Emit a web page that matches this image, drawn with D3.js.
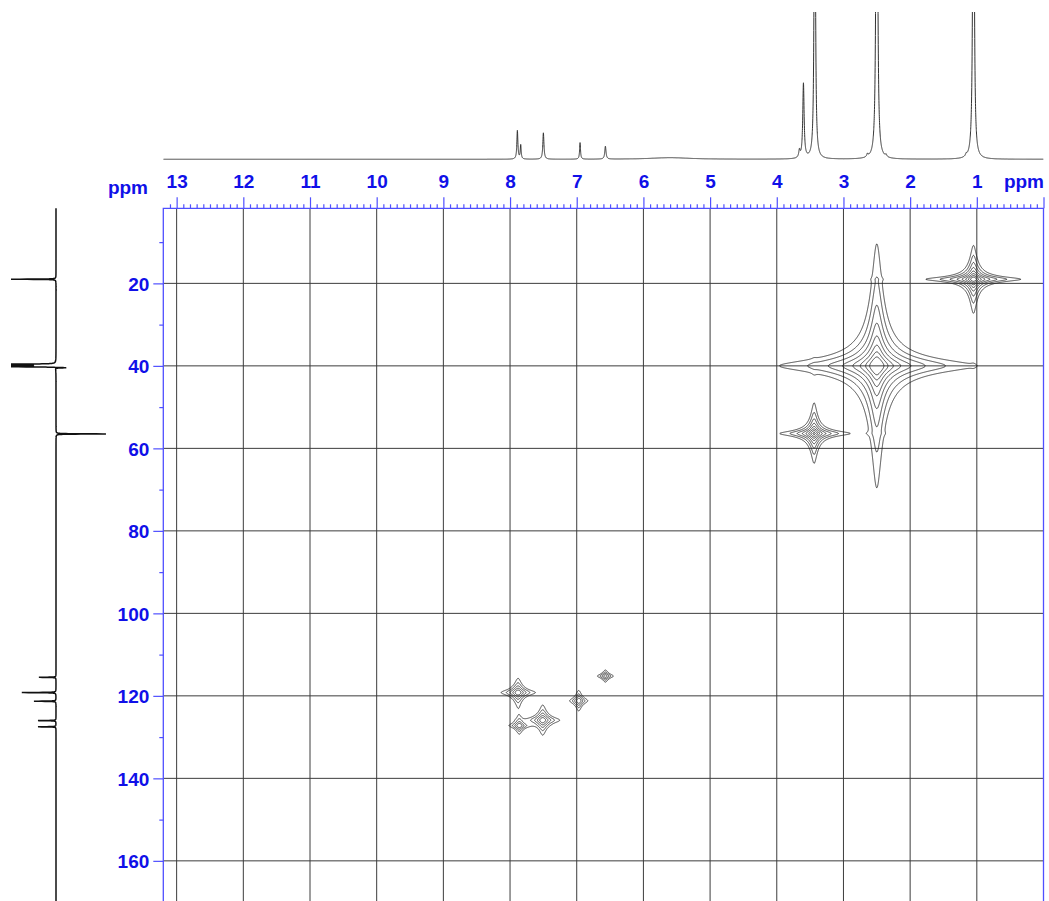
<!DOCTYPE html>
<html><head><meta charset="utf-8">
<script src="https://cdn.jsdelivr.net/npm/d3@7"></script>
<style>body{margin:0;background:#fff} svg{display:block}</style>
</head><body><svg id="c" width="1049" height="901"></svg>
<script>
// ---------------- data ----------------
const hTicks = [13,12,11,10,9,8,7,6,5,4,3,2,1];
const cTicks = [20,40,60,80,100,120,140,160];
const cMinorTicks = [10,30,50,70,90,110,130,150,170];

// 1H projection (top): peak positions (ppm), heights (relative), half widths (ppm)
const hPeakPpm    = [7.89, 7.84, 7.50, 6.95, 6.57, 5.60, 3.66, 3.60, 3.43, 2.64, 2.503, 2.497, 2.36, 1.16, 1.05];
const hPeakHeight = [19.5, 9.5, 18.0, 11.3, 8.8, 1.1, 5.0, 51.0, 330, 2.0, 220, 220, 1.5, 1.5, 380];
const hPeakWidth  = [0.009, 0.008, 0.010, 0.008, 0.011, 0.35, 0.012, 0.012, 0.009, 0.012, 0.010, 0.010, 0.012, 0.012, 0.010];

// 13C projection (left): peak positions (ppm), heights (signed), half widths (ppm)
const cPeakPpm    = [19.0, 39.6, 39.8, 40.0, 40.2, 40.45, 56.5, 115.5, 119.2, 121.3, 126.0, 127.5];
const cPeakHeight = [100, 160, 170, 170, 160, -29, -111, 38, 76, 49, 40, 40];
const cPeakWidth  = [0.04, 0.04, 0.04, 0.04, 0.04, 0.06, 0.04, 0.04, 0.04, 0.04, 0.04, 0.04];

// HSQC cross peaks: 1H ppm, 13C ppm, amplitude, 1H half width, 13C half width
const xpH   = [1.05, 2.50, 3.44, 7.88, 7.86, 7.51, 6.97, 6.57];
const xpC   = [19.0, 40.0, 56.4, 119.2, 127.2, 125.9, 121.2, 115.2];
const xpAmp = [250, 400, 150, 30, 15, 30, 15, 12];
const xpWH  = [0.045, 0.073, 0.042, 0.047, 0.040, 0.047, 0.036, 0.036];
const xpWC  = [0.52, 1.48, 0.59, 0.63, 0.52, 0.67, 0.65, 0.44];
const contourLevels = [1, 2, 4, 8, 16, 32, 64, 128];

// ---------------- drawing ----------------
const svg = d3.select('#c');
const BLUE_LINE = '#4f4fff', BLUE_TEXT = '#1010e8', GRID = '#3c3c3c', TRACE = '#333';
const FONT = '"Liberation Sans", Arial, Helvetica, sans-serif';

const x = d3.scaleLinear().domain([13.2, 0]).range([163.3, 1043.5]);
const y = d3.scaleLinear().domain([1.8, 170]).range([208.3, 902.1]);
const x0 = x.range()[0], x1 = x.range()[1], y0 = y.range()[0], yBottom = 901;

// grid
const grid = svg.append('g').attr('stroke', GRID).attr('stroke-width', 1);
grid.selectAll('line.v').data(hTicks).join('line').attr('class','v')
  .attr('x1', d => x(d)).attr('x2', d => x(d)).attr('y1', y0).attr('y2', yBottom);
grid.selectAll('line.h').data(cTicks).join('line').attr('class','h')
  .attr('x1', x0).attr('x2', x1).attr('y1', d => y(d)).attr('y2', d => y(d));

// contours
function intensity(h, c) {
  let s = 0;
  for (let k = 0; k < xpH.length; k++) {
    const dh = (h - xpH[k]) / xpWH[k], dc = (c - xpC[k]) / xpWC[k];
    s += xpAmp[k] / ((1 + dh*dh) * (1 + dc*dc));
  }
  return s;
}
const cg = svg.append('g').attr('fill', 'none').attr('stroke', '#1e1e1e').attr('stroke-width', 0.8);
function drawRegion(hA, hB, cA, cB, step) {
  const px0 = x(hA), px1 = x(hB), py0 = y(cA), py1 = y(cB);
  const nx = Math.ceil((px1 - px0) / step), ny = Math.ceil((py1 - py0) / step);
  const vals = new Float64Array(nx * ny);
  for (let j = 0; j < ny; j++) {
    const c = y.invert(py0 + (j + 0.5) * step);
    for (let i = 0; i < nx; i++) {
      vals[j * nx + i] = intensity(x.invert(px0 + (i + 0.5) * step), c);
    }
  }
  const conts = d3.contours().size([nx, ny]).thresholds(contourLevels)(vals);
  const path = d3.geoPath(d3.geoTransform({
    point: function(gx, gy) { this.stream.point(px0 + gx * step, py0 + gy * step); }
  }));
  cg.selectAll(null).data(conts).join('path').attr('d', path);
}
drawRegion(4.3, 0.0, 3, 78, 0.5);
drawRegion(8.6, 6.2, 108, 134, 0.4);

// frame (blue)
const frame = svg.append('g').attr('stroke', BLUE_LINE).attr('stroke-width', 1.3).attr('fill','none');
frame.append('path').attr('d', `M${x0},${yBottom}V${y0}H${x1}V${yBottom}`);

// top axis
const topMinor = d3.range(1, 132).map(i => i / 10).filter(v => Math.abs(v - Math.round(v)) > 1e-6);
const axTopMinor = svg.append('g').attr('transform', `translate(0,${y0})`)
  .call(d3.axisTop(x).tickValues(topMinor).tickSize(4).tickFormat(''));
const axTop = svg.append('g').attr('transform', `translate(0,${y0})`)
  .call(d3.axisTop(x).tickValues(hTicks.concat([0])).tickSize(11).tickPadding(9)
        .tickFormat(d => d === 0 ? '' : d));
// left axis
const axLeftMinor = svg.append('g').attr('transform', `translate(${x0},0)`)
  .call(d3.axisLeft(y).tickValues(cMinorTicks).tickSize(4).tickFormat(''));
const axLeft = svg.append('g').attr('transform', `translate(${x0},0)`)
  .call(d3.axisLeft(y).tickValues(cTicks).tickSize(10).tickPadding(4));
[axTopMinor, axTop, axLeftMinor, axLeft].forEach(g => {
  g.select('.domain').remove();
  g.selectAll('line').attr('stroke', BLUE_LINE).attr('stroke-width', 1.2);
  g.selectAll('text').attr('fill', BLUE_TEXT).attr('font-family', FONT)
    .attr('font-weight', 'bold').attr('font-size', 19);
});
axLeft.selectAll('text').attr('dy', '0.36em');
svg.append('text').attr('x', 148).attr('y', 194).attr('text-anchor','end')
  .attr('fill', BLUE_TEXT).attr('font-family', FONT).attr('font-weight','bold').attr('font-size', 19).text('ppm');
svg.append('text').attr('x', 1044).attr('y', 188).attr('text-anchor','end')
  .attr('fill', BLUE_TEXT).attr('font-family', FONT).attr('font-weight','bold').attr('font-size', 19).text('ppm');

// top 1H projection
const yH = d3.scaleLinear().domain([0, 100]).range([159.3, 12.7]);
function hSpec(p) {
  let s = 0;
  for (let k = 0; k < hPeakPpm.length; k++) {
    const d = (p - hPeakPpm[k]) / hPeakWidth[k];
    s += hPeakHeight[k] / (1 + d*d);
  }
  return s;
}
const hPts = d3.range(13.2, -0.0005, -0.001).map(p => [p, hSpec(p)]);
svg.append('clipPath').attr('id','clipTop').append('rect').attr('x', x0).attr('y', 12).attr('width', x1 - x0).attr('height', 160);
svg.append('path').attr('clip-path','url(#clipTop)')
  .attr('d', d3.line().x(d => x(d[0])).y(d => yH(d[1]))(hPts))
  .attr('fill','none').attr('stroke', TRACE).attr('stroke-width', 1);

// left 13C projection
const xCs = d3.scaleLinear().domain([0, 100]).range([56, 11]);
function cSpec(p) {
  let s = 0;
  for (let k = 0; k < cPeakPpm.length; k++) {
    const d = (p - cPeakPpm[k]) / cPeakWidth[k];
    s += cPeakHeight[k] / (1 + d*d);
  }
  return s;
}
const cPts = d3.range(1.8, 170, 0.01).map(p => [p, cSpec(p)]);
svg.append('clipPath').attr('id','clipLeft').append('rect').attr('x', 11).attr('y', 208).attr('width', 140).attr('height', 700);
svg.append('path').attr('clip-path','url(#clipLeft)')
  .attr('d', d3.line().x(d => xCs(d[1])).y(d => y(d[0]))(cPts))
  .attr('fill','none').attr('stroke', '#111').attr('stroke-width', 1.5);
</script></body></html>
